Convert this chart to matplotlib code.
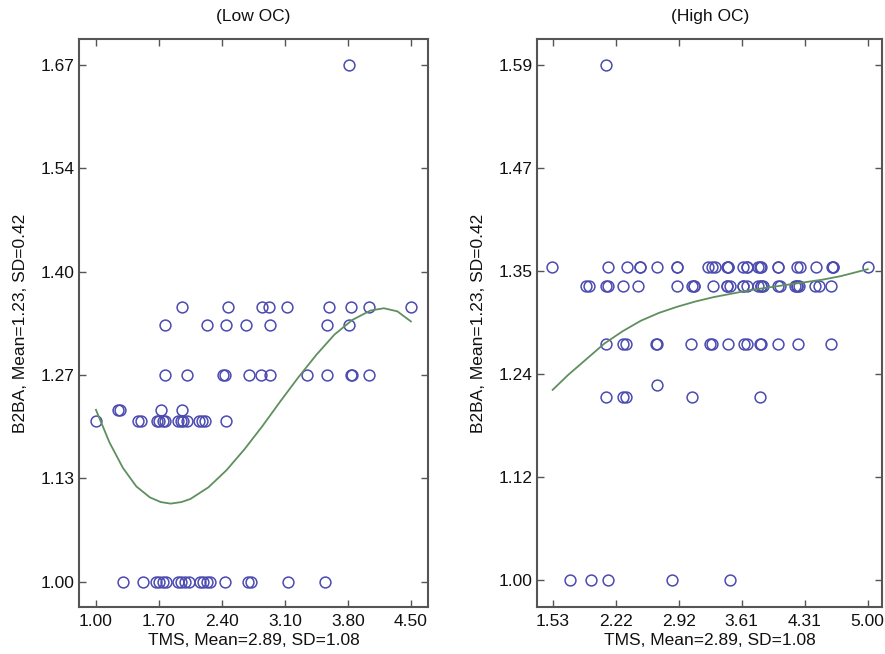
import numpy as np
import matplotlib
matplotlib.use("Agg")
import matplotlib.pyplot as plt

plt.rcParams['font.family'] = ['Liberation Sans', 'DejaVu Sans']

# ---- Low OC panel: TMS (x) vs B2BA (y), one list per y level ----
low_levels = [1.667, 1.354, 1.332, 1.267, 1.222, 1.208, 1.000]
low_rows = [
    [3.81],
    [1.96, 2.47, 2.85, 2.92, 3.12, 3.59, 3.83, 4.03, 4.50],
    [1.77, 2.23, 2.44, 2.67, 2.93, 3.57, 3.81],
    [1.77, 2.01, 2.41, 2.43, 2.70, 2.83, 2.93, 3.34, 3.57, 3.83, 3.85, 4.03],
    [1.25, 1.27, 1.72, 1.96],
    [1.00, 1.47, 1.50, 1.68, 1.70, 1.74, 1.77, 1.91, 1.94, 1.97, 2.01,
     2.15, 2.18, 2.21, 2.44],
    [1.30, 1.52, 1.67, 1.70, 1.74, 1.78, 1.91, 1.94, 1.99, 2.03, 2.16,
     2.19, 2.23, 2.27, 2.43, 2.69, 2.72, 3.13, 3.54],
]
# fitted curve
low_fit_x = [1.00, 1.15, 1.30, 1.45, 1.60, 1.72, 1.83, 1.95, 2.05, 2.25,
             2.45, 2.65, 2.85, 3.05, 3.25, 3.45, 3.65, 3.85, 4.05, 4.20,
             4.35, 4.50]
low_fit_y = [1.222, 1.180, 1.147, 1.123, 1.109, 1.103, 1.101, 1.103, 1.107,
             1.122, 1.144, 1.171, 1.201, 1.233, 1.264, 1.293, 1.319, 1.338,
             1.350, 1.353, 1.349, 1.336]
low_xticks = ['1.00', '1.70', '2.40', '3.10', '3.80', '4.50']
low_yticks = ['1.00', '1.13', '1.27', '1.40', '1.54', '1.67']

# ---- High OC panel ----
high_levels = [1.590, 1.358, 1.337, 1.271, 1.224, 1.210, 1.000]
high_rows = [
    [2.12],
    [1.52, 2.14, 2.35, 2.49, 2.49, 2.68, 2.90, 2.90, 3.24, 3.28, 3.32, 3.45,
     3.46, 3.46, 3.63, 3.67, 3.67, 3.79, 3.81, 3.83, 4.01, 4.01, 4.22, 4.25,
     4.43, 4.61, 4.62, 4.62, 5.00],
    [1.90, 1.93, 2.12, 2.14, 2.31, 2.47, 2.90, 3.06, 3.09, 3.09, 3.30, 3.45,
     3.45, 3.48, 3.63, 3.63, 3.67, 3.79, 3.83, 3.83, 3.85, 4.01, 4.03, 4.20,
     4.22, 4.22, 4.24, 4.42, 4.46, 4.60],
    [2.12, 2.31, 2.34, 2.67, 2.68, 3.05, 3.26, 3.29, 3.46, 3.64, 3.67, 3.81,
     3.83, 4.01, 4.23, 4.60],
    [2.68],
    [2.12, 2.31, 2.34, 3.06, 3.81],
    [1.72, 1.95, 2.14, 2.85, 3.48],
]
high_fit_x = [1.53, 1.70, 1.90, 2.10, 2.30, 2.50, 2.70, 2.90, 3.10, 3.30,
              3.50, 3.70, 3.90, 4.10, 4.30, 4.50, 4.70, 5.00]
high_fit_y = [1.218, 1.235, 1.253, 1.271, 1.285, 1.297, 1.306, 1.313, 1.319,
              1.324, 1.328, 1.332, 1.335, 1.338, 1.341, 1.344, 1.348, 1.356]
high_xticks = ['1.53', '2.22', '2.92', '3.61', '4.31', '5.00']
high_yticks = ['1.00', '1.12', '1.24', '1.35', '1.47', '1.59']

marker_col = '#4b4bb0'
fit_col = '#5f8f5f'
frame_col = '#555555'
text_col = '#111111'
fs = 12.5

fig = plt.figure(figsize=(8.85, 6.54), dpi=100)
ax1 = fig.add_axes([0.0896, 0.0723, 0.3940, 0.8677])
ax2 = fig.add_axes([0.6073, 0.0723, 0.3893, 0.8677])


def draw_panel(ax, levels, rows, fx, fy, xt, yt, xlim, ylim, title):
    for lev, xs in zip(levels, rows):
        ax.plot(xs, [lev] * len(xs), linestyle='none', marker='o',
                markersize=7.8, markerfacecolor='none',
                markeredgecolor=marker_col, markeredgewidth=1.1)
    ax.plot(fx, fy, color=fit_col, lw=1.3)
    xv = [float(t) for t in xt]
    ax.set_xticks(np.linspace(xv[0], xv[-1], len(xt)))
    ax.set_xticklabels(xt)
    ax.set_yticks(np.linspace(levels[-1], levels[0], len(yt)))
    ax.set_yticklabels(yt)
    ax.set_xlim(*xlim)
    ax.set_ylim(*ylim)
    ax.tick_params(direction='in', length=5, width=1, colors=frame_col,
                   labelcolor=text_col, labelsize=fs,
                   top=True, right=True)
    ax.tick_params(axis='x', pad=5)
    for s in ax.spines.values():
        s.set_color(frame_col)
        s.set_linewidth(1.5)
    ax.set_xlabel('TMS, Mean=2.89, SD=1.08', fontsize=fs, color=text_col,
                  labelpad=3)
    ax.set_ylabel('B2BA, Mean=1.23, SD=0.42', fontsize=fs, color=text_col,
                  labelpad=9)
    ax.set_title(title, fontsize=fs, color=text_col, pad=13)


draw_panel(ax1, low_levels, low_rows, low_fit_x, low_fit_y,
           low_xticks, low_yticks, (0.815, 4.69), (0.968, 1.700), '(Low OC)')
draw_panel(ax2, high_levels, high_rows, high_fit_x, high_fit_y,
           high_xticks, high_yticks, (1.363, 5.157), (0.970, 1.619), '(High OC)')

fig.savefig('out.png', dpi=100)
